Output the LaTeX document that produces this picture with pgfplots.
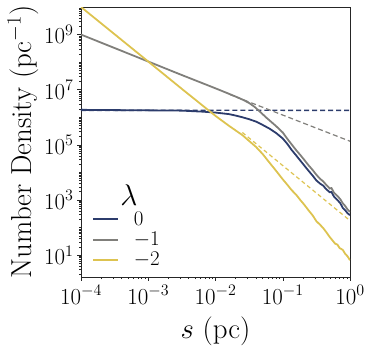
\RequirePackage{fix-cm}
\documentclass[border=0pt]{standalone}
\usepackage{pgfplots}
\pgfplotsset{compat=1.18}

\definecolor{cblue}{RGB}{44,60,108}
\definecolor{cgray}{RGB}{128,127,123}
\definecolor{cyellow}{RGB}{221,195,80}

% minor ticks 2..9 in every decade
\def\yminor{}
\foreach \e in {0,...,9}{\foreach \m in {2,...,9}{\xdef\yminor{\yminor\m e\e,}}}
\def\xminor{}
\foreach \e in {-4,...,-1}{\foreach \m in {2,...,9}{\xdef\xminor{\xminor\m e\e,}}}
\newcommand\legfont{\fontsize{21}{25}\selectfont}

\begin{document}
\begin{tikzpicture}
\begin{axis}[
    name=ax,
    xmode=log, ymode=log,
    scale only axis,
    width=269bp, height=270bp,
    xmin=1e-4, xmax=1,
    ymin=1.6, ymax=1e10,
    xtick={1e-4,1e-3,1e-2,1e-1,1},
    ytick={1e1,1e3,1e5,1e7,1e9},
    minor xtick/.expanded={\xminor 1},
    minor ytick/.expanded={\yminor 1e2,1e4,1e6,1e8},
    tick align=outside,
    major tick length=4pt,
    minor tick length=2pt,
    tick pos=left,
    axis line style={black!85, line width=0.6pt},
    every tick/.style={black!85, line width=0.5pt},
    tick label style={font=\fontsize{23}{27}\selectfont},
    xticklabel style={yshift=-1pt},
    xlabel={$s$ (pc)},
    ylabel={Number Density (pc$^{-1}$)},
    label style={font=\fontsize{29}{33}\selectfont},
    xlabel style={yshift=-6pt},
    ylabel style={yshift=-1pt},
]
% dashed power laws
\addplot[cblue, dash pattern=on 5pt off 3pt, line width=1.3pt] coordinates {
(1e-4,1.78e6) (1e-3,1.78e6) (1e-2,1.8e6) (1e-1,1.78e6) (1,1.78e6)};
\addplot[cgray, dash pattern=on 5pt off 3pt, line width=1.2pt] coordinates {
(1.585e-2,6.9e6) (1,1.35e5)};
\addplot[cyellow, dash pattern=on 4pt off 3pt, line width=1.2pt] coordinates {
(2.51e-2,2.8e5) (1,178)};

% lambda = 0
\addplot[cblue, line width=1.8pt] coordinates {
(1e-4,1.9e6) (1.2e-4,1.85e6) (1e-3,1.78e6) (3.16e-3,1.74e6) (6.31e-3,1.6e6) (1e-2,1.48e6)
(1.585e-2,1.3e6) (2e-2,1.15e6) (2.51e-2,1.0e6) (3.16e-2,8.5e5) (3.98e-2,7e5) (5e-2,5.3e5)
(6.31e-2,3.9e5) (7.94e-2,2.7e5) (0.1,1.7e5) (0.118,1.05e5) (0.135,6.6e4) (0.16,4e4)
(0.182,2.7e4) (0.21,1.75e4) (0.24,1.17e4) (0.28,7.5e3)
(0.316,5.1e3) (0.36,3.9e3) (0.4,3.3e3) (0.44,2.5e3) (0.5,1.9e3) (0.53,1.95e3) (0.58,1.3e3)
(0.65,1e3) (0.72,750) (0.78,520) (0.85,420) (0.92,330) (1,280)};
% lambda = -1
\addplot[cgray, line width=1.8pt] coordinates {
(1e-4,1e9) (1e-3,1.05e8) (3.16e-3,3.4e7) (1e-2,1.12e7) (1.585e-2,7.1e6)
(2e-2,5.6e6) (2.51e-2,4.4e6) (3.16e-2,3.3e6) (3.8e-2,2.4e6) (4.57e-2,1.6e6) (5.75e-2,9.5e5)
(7.94e-2,4.8e5) (0.1,2.8e5) (0.118,1.6e5) (0.135,1.05e5) (0.16,6.2e4) (0.182,4.3e4)
(0.21,2.8e4) (0.24,1.85e4) (0.28,1.2e4) (0.316,8.2e3) (0.36,5.8e3) (0.4,4.7e3)
(0.44,3.6e3) (0.5,2.6e3) (0.53,2.7e3) (0.58,1.8e3) (0.65,1.4e3) (0.72,1.05e3)
(0.78,760) (0.85,600) (0.92,450) (1,370)};
% lambda = -2
\addplot[cyellow, line width=1.8pt] coordinates {
(1e-4,1e10) (1e-3,1.05e8) (3.16e-3,1.07e7) (1e-2,1.12e6) (1.585e-2,4.9e5)
(2.51e-2,2.25e5) (3.16e-2,1.38e5) (3.98e-2,8.5e4) (5e-2,4.7e4) (6.31e-2,2.3e4) (7.94e-2,1.15e4)
(0.1,5.6e3) (0.12,3.3e3) (0.135,2.3e3) (0.16,1.5e3) (0.182,1e3) (0.21,660) (0.24,430)
(0.28,270) (0.316,170) (0.36,125) (0.4,95) (0.44,70) (0.5,45) (0.55,34) (0.6,26)
(0.65,24) (0.7,18) (0.78,15.5) (0.85,11) (0.92,9) (1,6.5)};

% legend (title and keys)
\node[font=\fontsize{30}{34}\selectfont, inner sep=0pt] at (rel axis cs:0.178,0.305) {$\lambda$};
\draw[cblue, line width=1.8pt] (rel axis cs:0.045,0.215) -- (rel axis cs:0.138,0.215);
\draw[cgray, line width=1.8pt] (rel axis cs:0.045,0.137) -- (rel axis cs:0.138,0.137);
\draw[cyellow, line width=1.8pt] (rel axis cs:0.045,0.063) -- (rel axis cs:0.138,0.063);
\node[font=\legfont, anchor=west, inner sep=0pt] at (rel axis cs:0.196,0.215) {$0$};
\node[font=\legfont, anchor=west, inner sep=0pt] at (rel axis cs:0.196,0.137) {$-1$};
\node[font=\legfont, anchor=west, inner sep=0pt] at (rel axis cs:0.196,0.063) {$-2$};
\end{axis}
\pgfresetboundingbox
\path ([xshift=-81bp,yshift=-71bp]ax.south west) rectangle ([xshift=24bp,yshift=7bp]ax.north east);
\end{tikzpicture}
\end{document}
